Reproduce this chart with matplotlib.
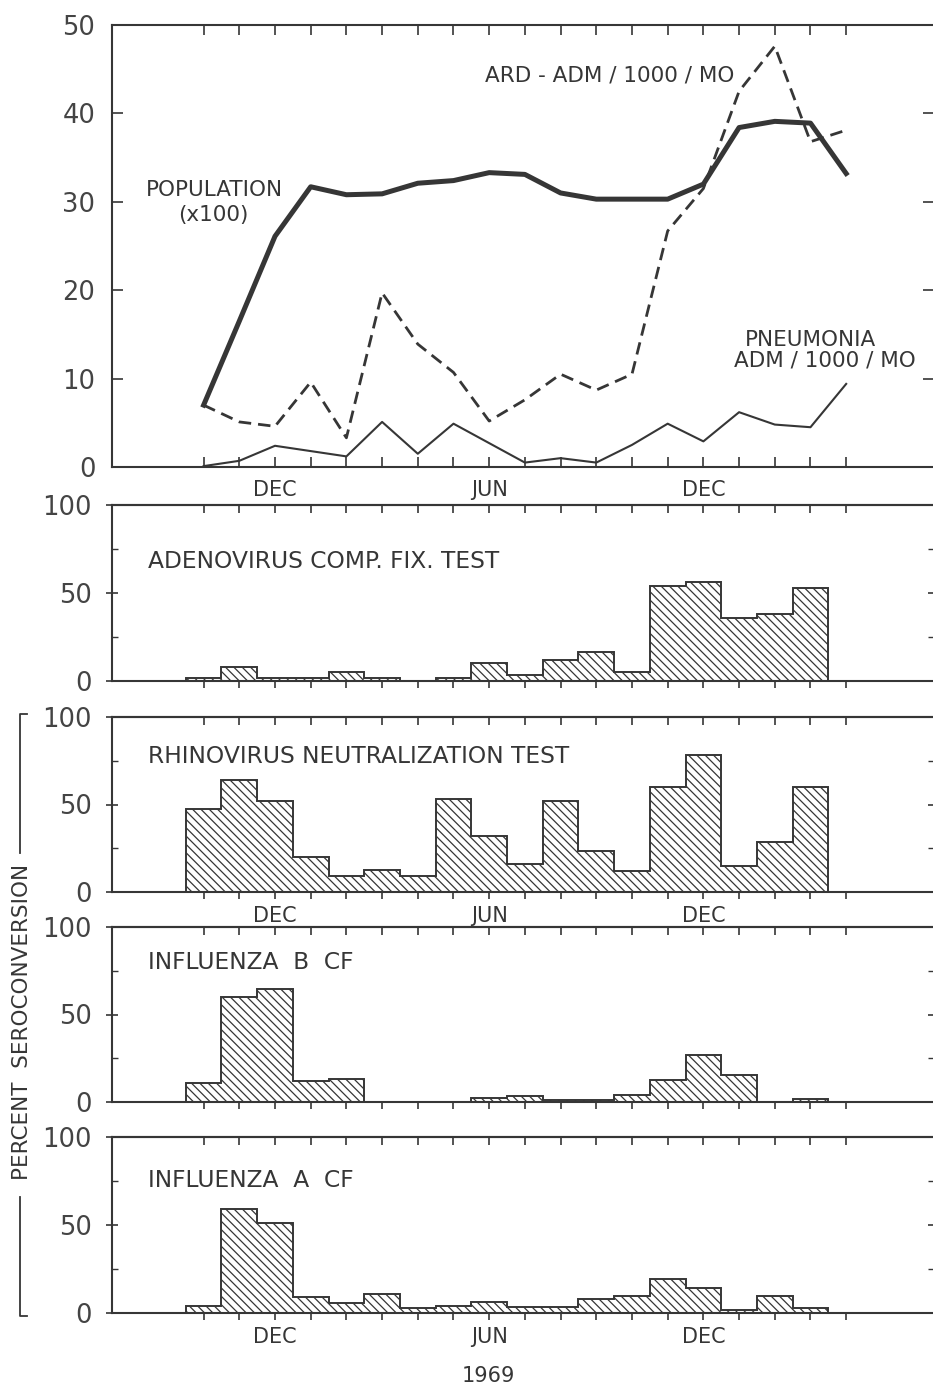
import numpy as np
import matplotlib
matplotlib.use("Agg")
import matplotlib.pyplot as plt
from matplotlib.lines import Line2D

# ---------------- data ----------------
month_index = list(range(19))          # monthly points, Oct 1968 ... Apr 1970
month_tick_labels = ['', '', 'DEC', '', '', '', '', '', 'JUN', '', '', '', '', '', 'DEC', '', '', '', '']

population_x100 = [7.0, 16.5, 26.1, 31.7, 30.8, 30.9, 32.1, 32.4, 33.3, 33.1,
                   31.0, 30.3, 30.3, 30.3, 32.0, 38.4, 39.1, 38.9, 33.2]
ard_adm = [7.0, 5.1, 4.6, 9.6, 3.3, 19.7, 13.9, 10.7, 5.2, 7.6,
           10.5, 8.7, 10.5, 26.7, 31.5, 42.5, 47.6, 36.8, 38.1]
pneumonia_adm = [0.1, 0.7, 2.4, 1.8, 1.2, 5.1, 1.5, 4.9, 2.7, 0.5,
                 1.0, 0.5, 2.5, 4.9, 2.9, 6.2, 4.8, 4.5, 9.4]

bar_month_index = list(range(18))
adenovirus_cf = [1.9, 8.2, 1.9, 1.9, 5.3, 1.9, 0, 1.9, 10.1, 3.2,
                 12.0, 16.6, 5.1, 53.9, 56.2, 35.6, 38.3, 53.0]
rhinovirus_nt = [47.6, 64.2, 51.8, 19.8, 9.1, 12.4, 9.1, 53.3, 31.8, 15.8,
                 51.8, 23.4, 11.8, 60.0, 78.5, 14.9, 28.6, 59.8]
influenza_b_cf = [10.9, 60.0, 64.8, 11.8, 13.3, 0, 0, 0, 2.5, 3.2,
                  1.3, 1.3, 4.2, 12.8, 26.7, 15.2, 0, 1.9]
influenza_a_cf = [4.0, 59.2, 51.0, 9.1, 5.7, 10.7, 3.0, 4.0, 6.3, 3.4,
                  3.4, 8.2, 9.7, 19.4, 14.0, 1.7, 9.9, 2.7]

panel_titles = ['ADENOVIRUS COMP. FIX. TEST', 'RHINOVIRUS NEUTRALIZATION TEST',
                'INFLUENZA  B  CF', 'INFLUENZA  A  CF']

# ---------------- style ----------------
INK = '#363636'
plt.rcParams['font.family'] = ['DejaVu Sans']
plt.rcParams['hatch.linewidth'] = 0.9
plt.rcParams['hatch.color'] = INK

W, H = 933, 1388
fig = plt.figure(figsize=(W / 100, H / 100), dpi=100)
fig.patch.set_facecolor('white')


def rect(l, t, r, b):
    return [l / W, 1 - b / H, (r - l) / W, (b - t) / H]


XLIM = (-2.566, 20.46)
LBL = 15.5      # annotation font size
TICK = 18.5     # numeric tick label size
MON = 15        # month label size


def style_spines(ax):
    for s in ax.spines.values():
        s.set_color(INK)
        s.set_linewidth(1.5)


# ---------------- top panel ----------------
ax0 = fig.add_axes(rect(112, 25, 934, 467))
style_spines(ax0)
ax0.plot(month_index, population_x100, color=INK, lw=3.6, solid_joinstyle='round')
ax0.plot(month_index, ard_adm, color=INK, lw=2.0, dashes=(4.5, 2.5))
ax0.plot(month_index, pneumonia_adm, color=INK, lw=1.5)
ax0.set_xlim(*XLIM)
ax0.set_ylim(0, 50)
ax0.set_yticks([0, 10, 20, 30, 40, 50])
ax0.set_yticklabels(['0', '10', '20', '30', '40', '50'])
ax0.set_xticks(month_index)
ax0.set_xticklabels(month_tick_labels)
ax0.tick_params(axis='x', direction='in', length=7, width=1.2, color=INK,
                top=True, bottom=True, labelsize=MON, labelcolor=INK, pad=9)
ax0.tick_params(axis='y', direction='in', length=8, width=1.2, color=INK,
                left=True, right=True, labelsize=TICK, labelcolor='#444444', pad=12)

ax0.text(7.88, 44.3, 'ARD - ADM / 1000 / MO', fontsize=LBL, color=INK, va='center', ha='left')
ax0.text(-1.61, 31.3, 'POPULATION', fontsize=LBL, color=INK, va='center', ha='left')
ax0.text(-0.72, 28.5, '(x100)', fontsize=LBL, color=INK, va='center', ha='left')
ax0.text(15.15, 14.4, 'PNEUMONIA', fontsize=LBL, color=INK, va='center', ha='left')
ax0.text(14.85, 12.0, 'ADM / 1000 / MO', fontsize=LBL, color=INK, va='center', ha='left')

# ---------------- bar panels ----------------
panel_rects = [(505, 681), (717, 892), (927, 1102), (1137, 1313)]
panel_values = [adenovirus_cf, rhinovirus_nt, influenza_b_cf, influenza_a_cf]
panel_show_months = [False, True, False, True]
title_y = [68, 77.5, 79.5, 75.5]

edges = np.arange(len(bar_month_index) + 1) - 0.5

for (t, b), vals, title, show, ty in zip(panel_rects, panel_values, panel_titles,
                                         panel_show_months, title_y):
    ax = fig.add_axes(rect(112, t, 934, b))
    style_spines(ax)
    ax.bar(bar_month_index, vals, width=1.0, align='center', color='white',
           edgecolor=INK, linewidth=0, hatch='\\\\\\\\', zorder=2)
    ax.stairs(vals, edges, baseline=0, color=INK, lw=1.4, zorder=3)
    ax.set_xlim(*XLIM)
    ax.set_ylim(0, 100)
    ax.set_yticks([0, 50, 100])
    ax.set_yticklabels(['0', '50', '100'])
    ax.set_yticks([25, 75], minor=True)
    ax.set_xticks(month_index)
    ax.set_xticklabels(month_tick_labels if show else [''] * len(month_index))
    ax.tick_params(axis='x', direction='out', length=5, width=1.2, color=INK,
                   bottom=True, top=False, labelsize=MON, labelcolor=INK, pad=5)
    sec = ax.secondary_xaxis('top')
    sec.set_xticks(month_index)
    sec.set_xticklabels([''] * len(month_index))
    sec.tick_params(axis='x', direction='in', length=6, width=1.2, color=INK)
    for s in sec.spines.values():
        s.set_color(INK)
        s.set_linewidth(1.5)
    ax.tick_params(axis='y', which='major', direction='inout', length=9, width=1.2,
                   color=INK, left=True, right=True, labelsize=TICK,
                   labelcolor='#444444', pad=10)
    ax.tick_params(axis='y', which='minor', direction='in', length=4, width=1.0,
                   color=INK, left=True, right=True)
    ax.text(-1.56, ty, title, fontsize=16.8, color=INK, va='center', ha='left', zorder=4)

# ---------------- y-axis bracket label ----------------
def fl(xs, ys):
    fig.add_artist(Line2D([x / W for x in xs], [1 - y / H for y in ys],
                          color=INK, lw=1.3, transform=fig.transFigure))

fl([27, 20, 20], [714, 714, 853])
fl([20, 20, 27], [1197, 1316, 1316])
fig.text(22 / W, 1 - 1022 / H, 'PERCENT  SEROCONVERSION', rotation=90,
         fontsize=15.5, color=INK, ha='center', va='center')

fig.text(488 / W, 1 - 1376 / H, '1969', fontsize=15, color=INK, ha='center', va='center')

fig.savefig('out.png', dpi=100, facecolor='white')
